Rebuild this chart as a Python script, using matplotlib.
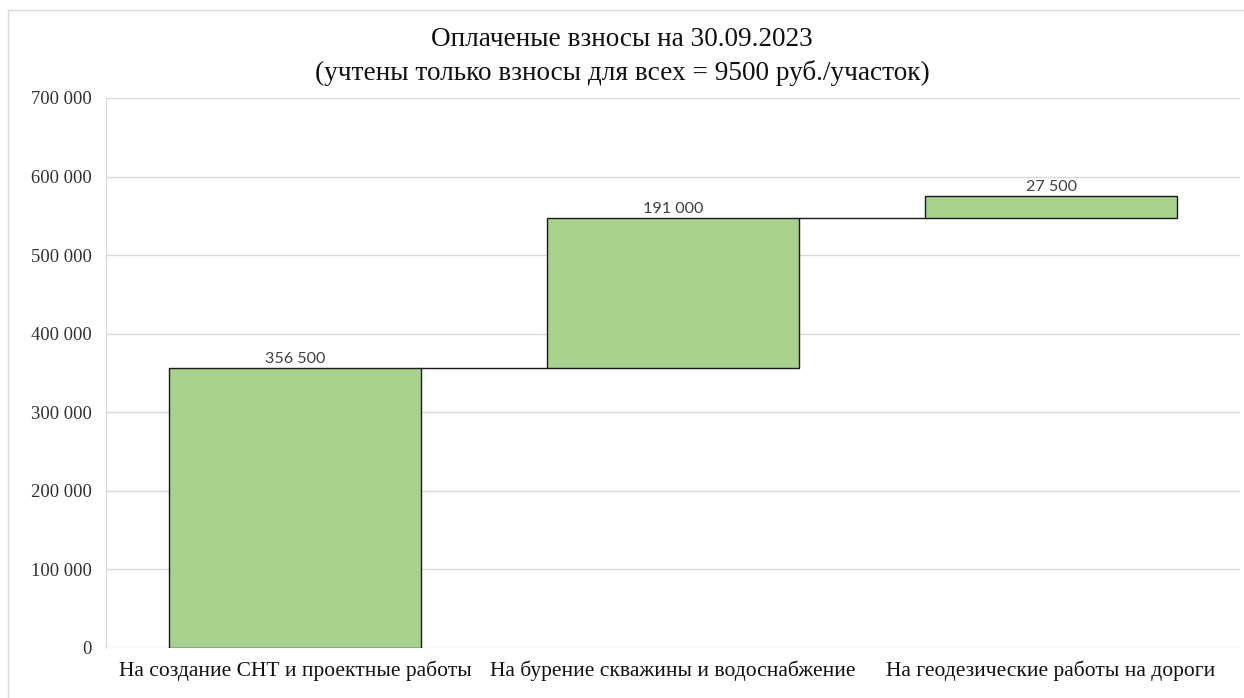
import matplotlib
matplotlib.use("Agg")
import matplotlib.pyplot as plt
from matplotlib.patches import Rectangle
from matplotlib.ticker import FuncFormatter
import numpy as np

categories = ["На создание СНТ и проектные работы",
              "На бурение скважины и водоснабжение",
              "На геодезические работы на дороги"]
values = [356500, 191000, 27500]
yticks = [0, 100000, 200000, 300000, 400000, 500000, 600000, 700000]
title = "Оплаченые взносы на 30.09.2023\n(учтены только взносы для всех = 9500 руб./участок)"

serif = ["Liberation Serif", "DejaVu Serif"]
sans = ["Lato", "Open Sans", "DejaVu Sans"]

fig = plt.figure(figsize=(12.44, 6.98), dpi=100)
fig.patch.set_facecolor("white")
fig.patches.append(Rectangle((8/1244, -0.05), 1.1, (698-10)/698 + 0.05,
                             transform=fig.transFigure, fill=False,
                             edgecolor="#d9d9d9", linewidth=1.0, zorder=0))
ax = fig.add_axes([106/1244, 50/698, (1240-106)/1244, 550/698])

x = np.arange(len(values))
vals = np.array(values)
bottoms = np.concatenate([[0], np.cumsum(vals)[:-1]])
tops = bottoms + vals
width = 0.667
ax.bar(x, vals, bottom=bottoms, width=width, color="#a9d18e",
       edgecolor="#1a1a1a", linewidth=1.0, zorder=3)

for i in range(len(values) - 1):
    ax.plot([x[i] + width/2, x[i+1] - width/2], [tops[i], tops[i]],
            color="#1a1a1a", linewidth=1.0, zorder=3)

for xi, t, v in zip(x, tops, values):
    ax.annotate(f"{v:,}".replace(",", " "), (xi, t), xytext=(0, 1.5),
                textcoords="offset points", ha="center", va="bottom",
                fontsize=11.6, color="#404040", family=sans)

ax.set_xlim(-0.5, len(values) - 0.5)
ax.set_ylim(0, 700000)
ax.set_yticks(yticks)
ax.yaxis.set_major_formatter(FuncFormatter(lambda v, p: f"{int(v):,}".replace(",", " ")))
ax.set_xticks(x)
ax.set_xticklabels(categories)
ax.tick_params(axis="both", length=0)
ax.tick_params(axis="y", pad=10, labelsize=13.4, labelcolor="#303030")
ax.tick_params(axis="x", pad=9, labelsize=15.5, labelcolor="#111111")
for lab in ax.get_yticklabels() + ax.get_xticklabels():
    lab.set_family(serif)
ax.grid(axis="y", color="#d9d9d9", linewidth=1.0, zorder=0)
ax.set_axisbelow(True)
for s in ["top", "right", "bottom"]:
    ax.spines[s].set_visible(False)
ax.spines["left"].set_color("#d9d9d9")

fig.text(622/1244, 1 - 56/698, title, ha="center", va="center",
         fontsize=19.6, family=serif, color="#111111", linespacing=1.4)

fig.savefig("out.png", dpi=100)
